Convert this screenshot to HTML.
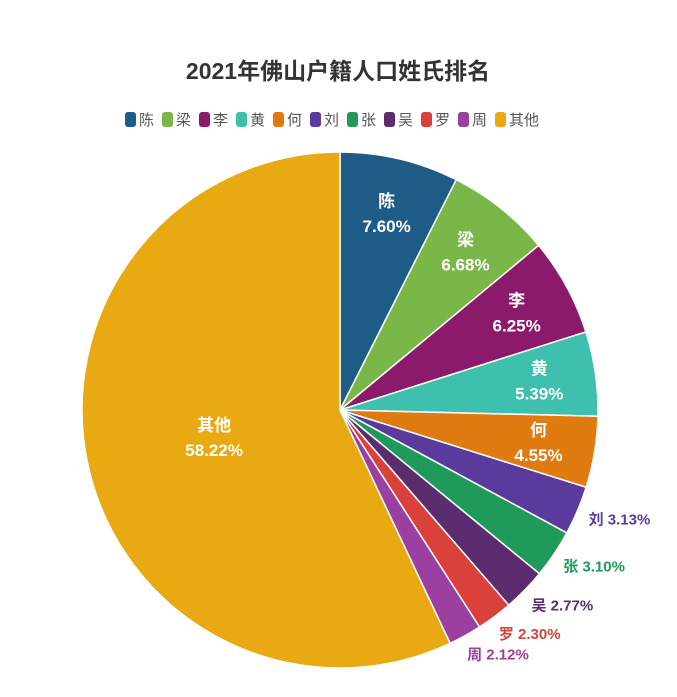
<!DOCTYPE html>
<html><head><meta charset="utf-8"><style>
body{margin:0;background:#fff;width:677px;height:692px;overflow:hidden;font-family:"Liberation Sans","Noto Sans CJK SC",sans-serif}
</style></head><body>
<svg id="chart" width="677" height="692" xmlns="http://www.w3.org/2000/svg">
<text x="338" y="79" text-anchor="middle" font-size="23" font-weight="bold" fill="#333" font-family="Liberation Sans, Noto Sans CJK SC, sans-serif">2021年佛山户籍人口姓氏排名</text>
<g id="legend"></g>
<g id="slices"></g>
<g id="labels"></g>
</svg>
<script>
const categories=["陈","梁","李","黄","何","刘","张","吴","罗","周","其他"];
const values=[7.60,6.68,6.25,5.39,4.55,3.13,3.10,2.77,2.30,2.12,58.22];
const colors=["#1f5b87","#7ab648","#8b1a6b","#3fbfad","#e07b12","#5b3a9e","#1f9a5a","#5c2d6e","#d9413a","#9b3fa0","#e8a912"];
const outside=[false,false,false,false,false,true,true,true,true,true,false];
const NS="http://www.w3.org/2000/svg";
const cx=340,cy=410,R=258;
const total=values.reduce((a,b)=>a+b,0);
function pt(a,r){return [cx+r*Math.sin(a),cy-r*Math.cos(a)];}
const sl=document.getElementById('slices'),lb=document.getElementById('labels'),lg=document.getElementById('legend');
let cum=0;
values.forEach((v,i)=>{
  const a0=cum/total*2*Math.PI; cum+=v; const a1=cum/total*2*Math.PI;
  const [x0,y0]=pt(a0,R),[x1,y1]=pt(a1,R);
  const p=document.createElementNS(NS,'path');
  p.setAttribute('d',`M${cx},${cy}L${x0},${y0}A${R},${R} 0 ${a1-a0>Math.PI?1:0} 1 ${x1},${y1}Z`);
  p.setAttribute('fill',colors[i]);p.setAttribute('stroke','#fff');p.setAttribute('stroke-width','1.5');
  
  
  sl.appendChild(p);
  const am=(a0+a1)/2;
  if(!outside[i]){
    const r=i===10?0.5*R:0.78*R;const [lx,ly]=pt(am,r);
    const t=document.createElementNS(NS,'text');
    t.setAttribute('x',lx);t.setAttribute('y',ly-7);t.setAttribute('text-anchor','middle');
    t.setAttribute('fill','#fff');t.setAttribute('font-size','17');t.setAttribute('font-weight','bold');
    t.innerHTML=`<tspan x="${lx}" dy="0">${categories[i]}</tspan><tspan x="${lx}" dy="25">${v.toFixed(2)}%</tspan>`;
    
    
    lb.appendChild(t);
  } else {
    const [lx,ly]=pt(am,1.08*R);
    const t=document.createElementNS(NS,'text');
    t.setAttribute('x',lx-8);t.setAttribute('y',ly+6);
    t.setAttribute('fill',colors[i]);t.setAttribute('font-size','15');t.setAttribute('font-weight','bold');
    t.textContent=categories[i]+' '+v.toFixed(2)+'%';
    
    
    lb.appendChild(t);
  }
});
let lx=125;
categories.forEach((c,i)=>{
  const r=document.createElementNS(NS,'rect');
  r.setAttribute('x',lx);r.setAttribute('y',112);r.setAttribute('width',11);r.setAttribute('height',15);r.setAttribute('rx',3);r.setAttribute('fill',colors[i]);
  
  
  lg.appendChild(r);
  const t=document.createElementNS(NS,'text');
  t.setAttribute('x',lx+14);t.setAttribute('y',125);t.setAttribute('font-size','15');t.setAttribute('fill','#555');
  t.textContent=c;
  
  
  lg.appendChild(t);
  lx+=14+15*c.length+8;
});
</script>
</body></html>
